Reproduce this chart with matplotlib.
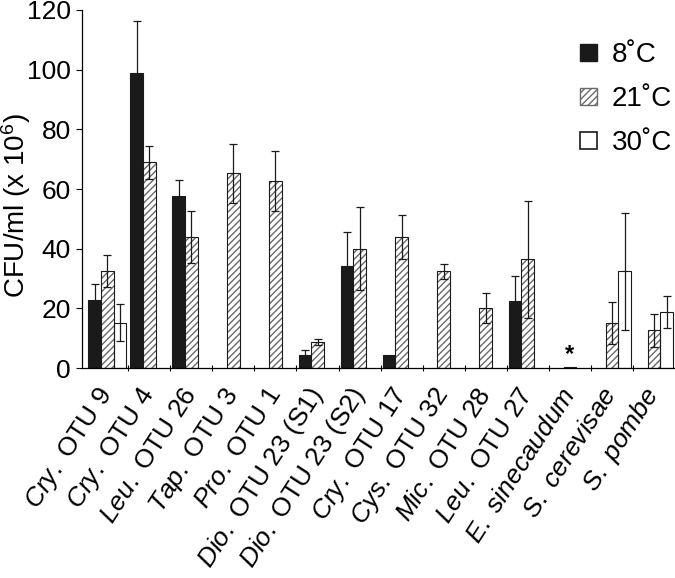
import matplotlib
matplotlib.use('Agg')
import matplotlib.pyplot as plt
from matplotlib.patches import Patch
import numpy as np

plt.rcParams['font.family'] = 'Liberation Sans'
plt.rcParams['mathtext.fontset'] = 'custom'
plt.rcParams['mathtext.rm'] = 'Liberation Sans'
plt.rcParams['mathtext.it'] = 'Liberation Sans:italic'
plt.rcParams['hatch.linewidth'] = 1.0

# strains (italic genus part written with mathtext)
labels = [r'$\it{Cry.}$ OTU 9', r'$\it{Cry.}$ OTU 4', r'$\it{Leu.}$ OTU 26',
          r'$\it{Tap.}$ OTU 3', r'$\it{Pro.}$ OTU 1', r'$\it{Dio.}$ OTU 23 (S1)',
          r'$\it{Dio.}$ OTU 23 (S2)', r'$\it{Cry.}$ OTU 17', r'$\it{Cys.}$ OTU 32',
          r'$\it{Mic.}$ OTU 28', r'$\it{Leu.}$ OTU 27', r'$\it{E.\ sinecaudum}$',
          r'$\it{S.\ cerevisae}$', r'$\it{S.\ pombe}$']

# CFU/ml (x 10^6); NaN = no growth / no bar
t8 = [22.7, 99.0, 57.6, np.nan, np.nan, 4.2, 34.1, 4.5, np.nan, np.nan, 22.6, np.nan, np.nan, np.nan]
t8_err = [5.5, 17.3, 5.5, 0, 0, 2.0, 11.5, 0, 0, 0, 8.2, 0, 0, 0]
t21 = [32.5, 68.9, 44.0, 65.2, 62.6, 8.7, 40.0, 43.9, 32.5, 20.0, 36.4, 0.4, 15.1, 12.6]
t21_err = [5.5, 5.5, 8.7, 9.8, 10.1, 1.0, 14.0, 7.4, 2.5, 5.0, 19.6, 0, 7.1, 5.6]
t30 = [15.1, np.nan, np.nan, np.nan, np.nan, np.nan, np.nan, np.nan, np.nan, np.nan, np.nan, np.nan, 32.5, 18.8]
t30_err = [6.2, 0, 0, 0, 0, 0, 0, 0, 0, 0, 0, 0, 19.6, 5.5]

fig = plt.figure(figsize=(6.75, 5.78), dpi=100)
ax = fig.add_axes([0.1215, 0.3633, 0.8785, 0.6194])

x = np.arange(len(labels))
w = 0.3
hatch_col = '#6a6a6a'

def draw(vals, errs, off, kind):
    vals = np.array(vals, dtype=float)
    errs = np.array(errs, dtype=float)
    m = ~np.isnan(vals)
    xs = x[m] + off
    if kind == 'black':
        ax.bar(xs, vals[m], w, color='#1a1a1a', edgecolor='#1a1a1a', linewidth=0.8, zorder=2)
    elif kind == 'hatch':
        ax.bar(xs, vals[m], w, color='white', edgecolor=hatch_col, hatch='/////', linewidth=0, zorder=2)
        ax.bar(xs, vals[m], w, color='none', edgecolor='#1a1a1a', linewidth=0.8, zorder=3)
    else:
        ax.bar(xs, vals[m], w, color='white', edgecolor='#1a1a1a', linewidth=0.8, zorder=2)
    e = m & (errs > 0)
    ax.errorbar(x[e] + off, vals[e], yerr=errs[e], fmt='none', ecolor='#1a1a1a',
                elinewidth=0.9, capsize=3, capthick=0.9, zorder=4)

draw(t8, t8_err, -w, 'black')
draw(t21, t21_err, 0, 'hatch')
draw(t30, t30_err, w, 'white')

ax.text(11, 0.6, '*', ha='center', va='bottom', fontsize=17, fontweight='bold')

ax.set_xlim(-0.6, 13.5)
ax.set_ylim(0, 120)
ax.set_yticks(np.arange(0, 121, 20))
ax.tick_params(axis='y', labelsize=19, direction='out', length=4, width=0.8, pad=4)
ax.set_xticks(x)
ax.set_xticklabels(labels, rotation=57, ha='right', va='center', rotation_mode='anchor', fontsize=19)
ax.tick_params(axis='x', which='major', length=0, pad=16)
ax.set_xticks(np.arange(0.5, 13.5, 1), minor=True)
ax.tick_params(axis='x', which='minor', direction='inout', length=5, width=0.8)
for s in ['top', 'right']:
    ax.spines[s].set_visible(False)
for s in ['left', 'bottom']:
    ax.spines[s].set_linewidth(0.9)

ax.set_ylabel(r'CFU/ml (x 10$^6$)', fontsize=20)
ax.yaxis.set_label_coords(-0.083, 0.4525)

handles = [Patch(facecolor='#1a1a1a', edgecolor='#1a1a1a'),
           Patch(facecolor='white', edgecolor=hatch_col, hatch='/////'),
           Patch(facecolor='white', edgecolor='#1a1a1a', linewidth=1.2)]
ax.legend(handles, ['8˚C', '21˚C', '30˚C'], loc='upper right', bbox_to_anchor=(1.0135, 0.941),
          borderaxespad=0, frameon=False, fontsize=20, handlelength=0.61, handleheight=0.61,
          handletextpad=0.54, labelspacing=0.65)

fig.savefig('out.png', dpi=100, facecolor='white')
